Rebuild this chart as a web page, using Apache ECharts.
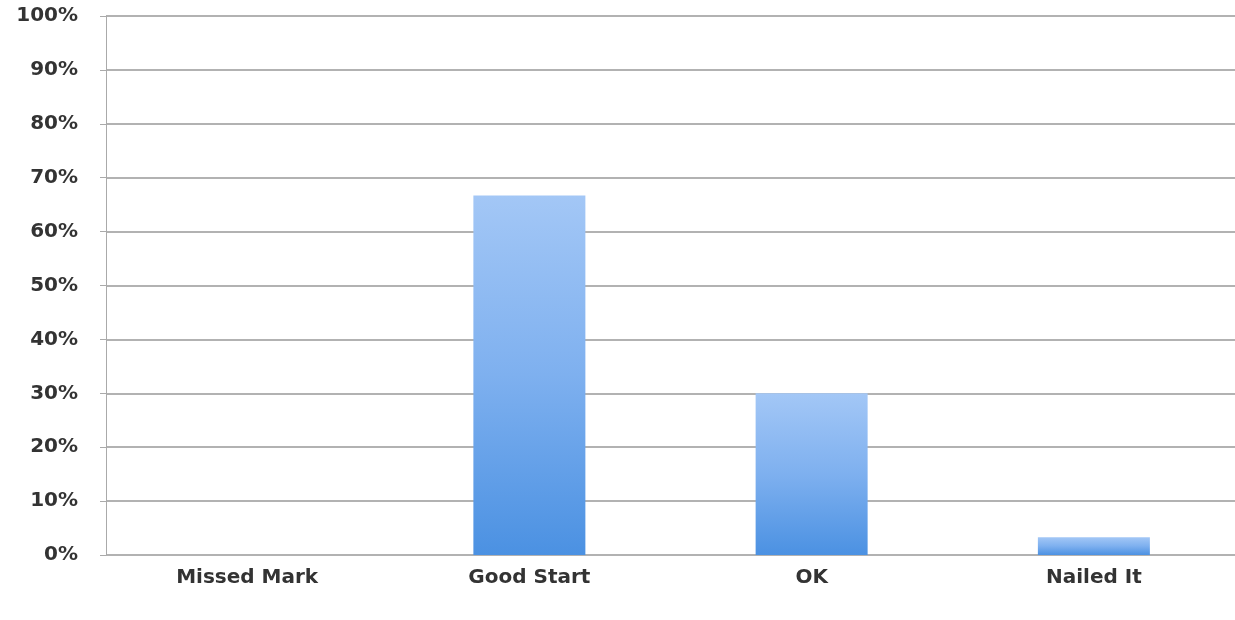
<!DOCTYPE html>
<html>
<head>
<meta charset="utf-8">
<script src="https://cdn.jsdelivr.net/npm/echarts@6/dist/echarts.min.js"></script>
<style>
html,body{margin:0;padding:0;background:#fff;}
#chart{width:1235px;height:620px;}
</style>
</head>
<body>
<div id="chart"></div>
<script>
const categories = ['Missed Mark', 'Good Start', 'OK', 'Nailed It'];
const values = [0, 66.7, 30, 3.3];
const yTicks = [0, 10, 20, 30, 40, 50, 60, 70, 80, 90, 100];

const chart = echarts.init(document.getElementById('chart'), null, {renderer: 'canvas'});
chart.setOption({
  backgroundColor: '#ffffff',
  animation: false,
  grid: {left: 106, width: 1136, top: 16, bottom: 65, containLabel: false},
  xAxis: {
    type: 'category',
    data: categories,
    axisLine: {show: false},
    axisTick: {show: false},
    axisLabel: {
      color: '#333', fontFamily: 'DejaVu Sans', fontWeight: 'bold', fontSize: 20, margin: 13
    }
  },
  yAxis: {
    type: 'value',
    min: yTicks[0], max: yTicks[yTicks.length - 1], interval: 10,
    axisLine: {show: true, lineStyle: {color: '#aaa', width: 1}},
    axisTick: {show: true, length: 6, lineStyle: {color: '#aaa'}},
    splitLine: {show: true, lineStyle: {color: '#999', width: 1.5}},
    axisLabel: {
      color: '#333', fontFamily: 'DejaVu Sans', fontWeight: 'bold', fontSize: 20, margin: 28,
      formatter: v => v + '%'
    }
  },
  series: [{
    type: 'bar',
    data: values,
    barWidth: 112,
    itemStyle: {
      color: new echarts.graphic.LinearGradient(0, 0, 0, 1, [
        {offset: 0, color: '#a3c7f6'},
        {offset: 0.5, color: '#7eb0ef'},
        {offset: 1, color: '#4b91e2'}
      ])
    }
  }]
});
</script>
</body>
</html>
